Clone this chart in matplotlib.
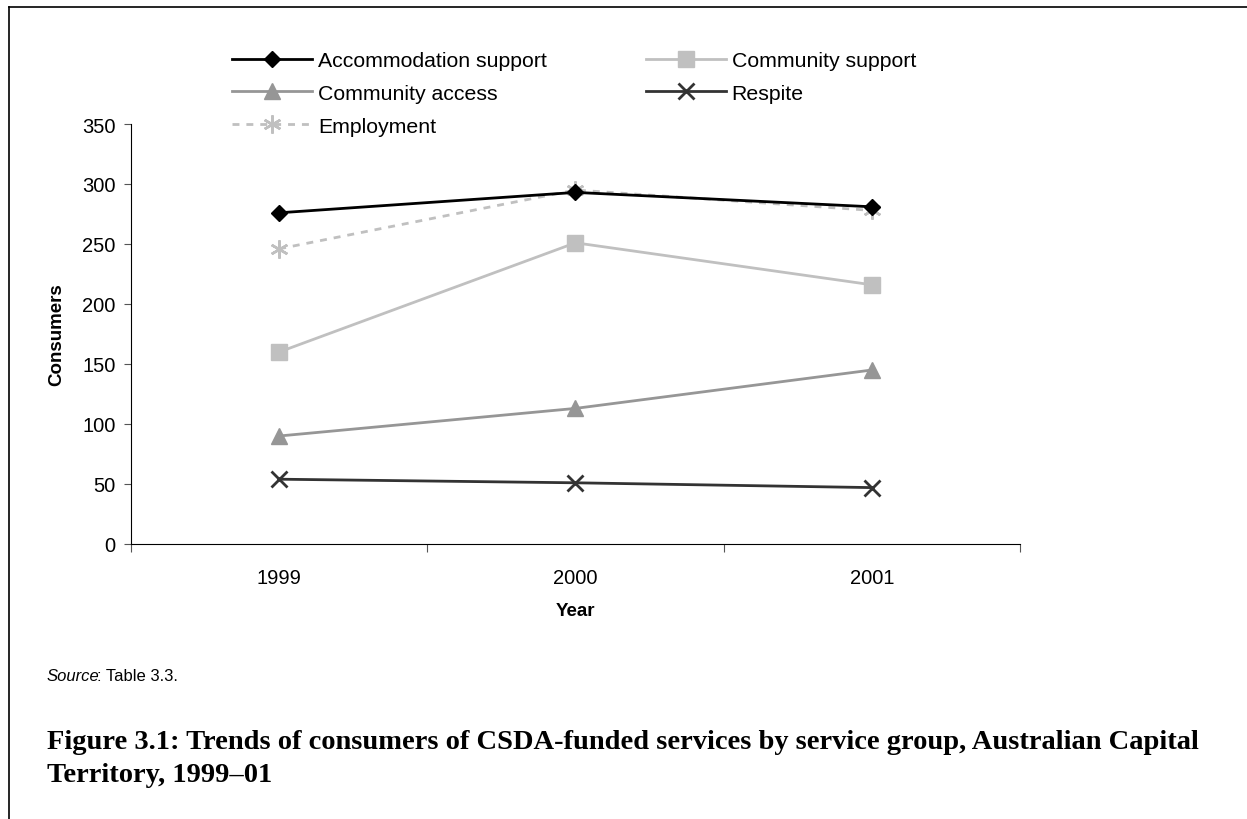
import numpy as np
import matplotlib
matplotlib.use("Agg")
import matplotlib.pyplot as plt
from matplotlib.lines import Line2D

plt.rcParams['font.family'] = ['Liberation Sans', 'DejaVu Sans']

years = ["1999", "2000", "2001"]
accommodation = [276, 293, 281]
community_support = [160, 251, 216]
community_access = [90, 113, 145]
respite = [54, 51, 47]
employment = [246, 295, 278]

fig = plt.figure(figsize=(12.47, 8.2), dpi=100)
ax = fig.add_axes([131 / 1247, 1 - 545 / 820, (1020 - 131) / 1247, 420 / 820])

x = np.arange(len(years))
h_acc, = ax.plot(x, accommodation, color="black", lw=2, marker="D", ms=8.5,
                 label="Accommodation support", zorder=5)
h_sup, = ax.plot(x, community_support, color="#c0c0c0", lw=2, marker="s", ms=11,
                 label="Community support")
h_acs, = ax.plot(x, community_access, color="#969696", lw=2, marker="^", ms=12,
                 label="Community access")
h_res, = ax.plot(x, respite, color="#333333", lw=2, marker="x", ms=12, mew=2,
                 label="Respite")
h_emp, = ax.plot(x, employment, color="#c0c0c0", lw=2, ls=(0, (2.5, 2.5)),
                 marker=(6, 2, 0), ms=13, mew=1.8, label="Employment", zorder=4)

ax.set_xlim(-0.5, 2.5)
ax.set_ylim(0, 350)
ax.set_yticks(np.arange(0, 351, 50))
ax.set_xticks([-0.5, 0.5, 1.5, 2.5])
ax.set_xticklabels([])
ax.set_xticks(x, minor=True)
ax.set_xticklabels(years, minor=True)
ax.tick_params(axis="x", which="major", direction="out", length=6, width=0.8,
               color="#555555")
ax.tick_params(axis="x", which="minor", length=0, labelsize=14.5, pad=17)
ax.tick_params(axis="y", direction="out", length=5, width=0.8, color="#555555",
               labelsize=14.5, pad=6)
for s in ["top", "right"]:
    ax.spines[s].set_visible(False)
ax.set_ylabel("Consumers", fontsize=13.5, fontweight="bold", labelpad=12)
ax.set_xlabel("Year", fontsize=13.5, fontweight="bold", labelpad=11)

fig.legend(handles=[h_acc, h_acs, h_emp, h_sup, h_res], ncol=2, frameon=False,
           loc="upper left", bbox_to_anchor=(232 / 1247, 1 - 52 / 820),
           fontsize=15.3, handlelength=3.76, handletextpad=0.28, columnspacing=4.66,
           labelspacing=0.65, borderpad=0, borderaxespad=0)

fig.text(47 / 1247, 1 - 677 / 820, "Source", style="italic", fontsize=12, va="center")
fig.text(47 / 1247 + 50 / 1247, 1 - 677 / 820, ": Table 3.3.", fontsize=12, va="center")
fig.text(47 / 1247, 1 - 759 / 820,
         "Figure 3.1: Trends of consumers of CSDA-funded services by service group, Australian Capital\n"
         "Territory, 1999\u201301",
         family=["Liberation Serif", "DejaVu Serif"], fontweight="bold", fontsize=20.5,
         va="center", linespacing=1.4)

# page frame (top and left edges)
fig.add_artist(Line2D([9 / 1247, 9 / 1247], [0, 1 - 8 / 820], color="black", lw=1.2,
                      transform=fig.transFigure))
fig.add_artist(Line2D([9 / 1247, 1], [1 - 8 / 820, 1 - 8 / 820], color="black", lw=1.2,
                      transform=fig.transFigure))

fig.savefig("out.png", dpi=100)
